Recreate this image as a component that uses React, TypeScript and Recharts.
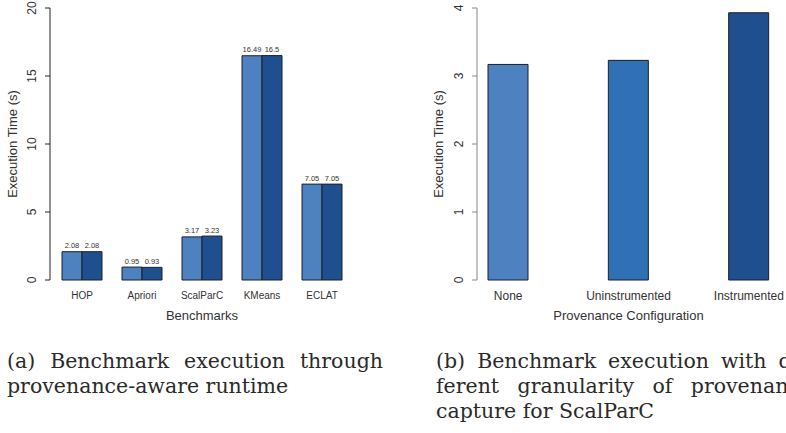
import { BarChart, Bar, XAxis, YAxis, Cell, LabelList, Label } from 'recharts';

// (a) benchmark execution, two runs per benchmark
const benchmarks = ['HOP', 'Apriori', 'ScalParC', 'KMeans', 'ECLAT'];
const plainRuntime = [2.08, 0.95, 3.17, 16.49, 7.05];
const provRuntime = [2.08, 0.93, 3.23, 16.5, 7.05];
const benchTicks = [0, 5, 10, 15, 20];

// (b) ScalParC with different provenance configurations
const configs = ['None', 'Uninstrumented', 'Instrumented'];
const configTimes = [3.17, 3.23, 3.93];
const configColors = ['#4e81c0', '#3070b5', '#1f4f8e'];
const configTicks = [0, 1, 2, 3, 4];

const LIGHT = '#4e81c0';
const DARK = '#1f4f8e';
const EDGE = '#1b1f2a';
const SANS = '"Liberation Sans", Arial, Helvetica, sans-serif';
const SERIF = '"DejaVu Serif", "Liberation Serif", serif';

const benchData = benchmarks.map((name, i) => ({
  name,
  plain: plainRuntime[i],
  prov: provRuntime[i],
}));
const configData = configs.map((name, i) => ({ name, time: configTimes[i] }));

// padding of the right x axis, so bars sit where R put them
const RIGHT_PAD = { left: -29, right: 11 };

function YTick({ x, y, payload }: any) {
  return (
    <text
      transform={`translate(${x - 9},${y}) rotate(-90)`}
      textAnchor="middle"
      fontSize={12}
      fontFamily={SANS}
      fill="#333"
    >
      {payload.value}
    </text>
  );
}

function makeXTick(size: number, dy: number) {
  return function XTick({ x, y, payload }: any) {
    return (
      <text x={x} y={y + dy} textAnchor="middle" fontSize={size} fontFamily={SANS} fill="#333">
        {payload.value}
      </text>
    );
  };
}

// small value printed over each bar
function valueLabel({ x, y, width, value }: any) {
  return (
    <text
      x={Number(x) + Number(width) / 2}
      y={Number(y) - 3.5}
      textAnchor="middle"
      fontSize={7.5}
      fontFamily={SANS}
      fill="#333"
    >
      {value}
    </text>
  );
}

function yTitle(textX: number) {
  return ({ viewBox }: any) => {
    const cy = viewBox.y + viewBox.height / 2;
    return (
      <text
        transform={`translate(${textX},${cy}) rotate(-90)`}
        textAnchor="middle"
        fontSize={13}
        fontFamily={SANS}
        fill="#333"
      >
        Execution Time (s)
      </text>
    );
  };
}

function xTitle(text: string, pad: { left: number; right: number }) {
  return ({ viewBox }: any) => {
    const left = viewBox.x + pad.left;
    const right = viewBox.x + viewBox.width - pad.right;
    return (
      <text
        x={(left + right) / 2}
        y={viewBox.y + 40}
        textAnchor="middle"
        fontSize={13}
        fontFamily={SANS}
        fill="#333"
      >
        {text}
      </text>
    );
  };
}

const captionLine = (justify: boolean): React.CSSProperties => ({
  width: 376,
  height: 25,
  whiteSpace: 'nowrap',
  textAlign: justify ? 'justify' : 'left',
  textAlignLast: justify ? 'justify' : 'left',
  overflow: 'visible',
});

const captionBox: React.CSSProperties = {
  position: 'absolute',
  top: 349,
  fontFamily: SERIF,
  fontSize: 20.5,
  lineHeight: '25px',
  color: '#2a2a2a',
};

export default function App() {
  return (
    <div
      style={{
        position: 'fixed',
        left: 0,
        top: 0,
        width: 786,
        height: 433,
        overflow: 'hidden',
        background: '#fff',
      }}
    >
      {/* (a) */}
      <div style={{ position: 'absolute', left: 0, top: 0 }}>
        <BarChart
          width={400}
          height={330}
          data={benchData}
          margin={{ top: 8, right: 46, bottom: 0, left: 0 }}
          barGap={0}
        >
          <XAxis
            dataKey="name"
            axisLine={false}
            tickLine={false}
            tickSize={0}
            tickMargin={0}
            height={50}
            padding={{ left: 2, right: 2 }}
            interval={0}
            tick={makeXTick(10, 18.5)}
          >
            <Label content={xTitle('Benchmarks', { left: 2, right: 2 })} />
          </XAxis>
          <YAxis
            width={50}
            domain={[0, 20]}
            ticks={benchTicks}
            interval={0}
            axisLine={{ stroke: '#222' }}
            tickLine={{ stroke: '#222' }}
            tickSize={5}
            tickMargin={0}
            tick={<YTick />}
          >
            <Label content={yTitle(16.5)} />
          </YAxis>
          <Bar dataKey="plain" fill={LIGHT} stroke={EDGE} strokeWidth={1} barSize={20} isAnimationActive={false}>
            <LabelList dataKey="plain" content={valueLabel} />
          </Bar>
          <Bar dataKey="prov" fill={DARK} stroke={EDGE} strokeWidth={1} barSize={20} isAnimationActive={false}>
            <LabelList dataKey="prov" content={valueLabel} />
          </Bar>
        </BarChart>
      </div>

      {/* (b) */}
      <div style={{ position: 'absolute', left: 400, top: 0 }}>
        <BarChart
          width={420}
          height={330}
          data={configData}
          margin={{ top: 8, right: 0, bottom: 0, left: 0 }}
        >
          <XAxis
            dataKey="name"
            axisLine={false}
            tickLine={false}
            tickSize={0}
            tickMargin={0}
            height={50}
            padding={RIGHT_PAD}
            interval={0}
            tick={makeXTick(12, 19.5)}
          >
            <Label content={xTitle('Provenance Configuration', RIGHT_PAD)} />
          </XAxis>
          <YAxis
            width={77}
            domain={[0, 4]}
            ticks={configTicks}
            interval={0}
            axisLine={{ stroke: '#888' }}
            tickLine={{ stroke: '#888' }}
            tickSize={5}
            tickMargin={0}
            tick={<YTick />}
          >
            <Label content={yTitle(42.5)} />
          </YAxis>
          <Bar dataKey="time" stroke={EDGE} strokeWidth={1} barSize={40} isAnimationActive={false}>
            {configData.map((d, i) => (
              <Cell key={d.name} fill={configColors[i]} />
            ))}
          </Bar>
        </BarChart>
      </div>

      {/* captions, the right one runs off the page as in the source figure */}
      <div style={{ ...captionBox, left: 7 }}>
        <div style={captionLine(true)}>(a) Benchmark execution through</div>
        <div style={captionLine(false)}>provenance-aware runtime</div>
      </div>
      <div style={{ ...captionBox, left: 436 }}>
        <div style={captionLine(true)}>(b) Benchmark execution with dif-</div>
        <div style={captionLine(true)}>ferent granularity of provenance</div>
        <div style={captionLine(false)}>capture for ScalParC</div>
      </div>
    </div>
  );
}
